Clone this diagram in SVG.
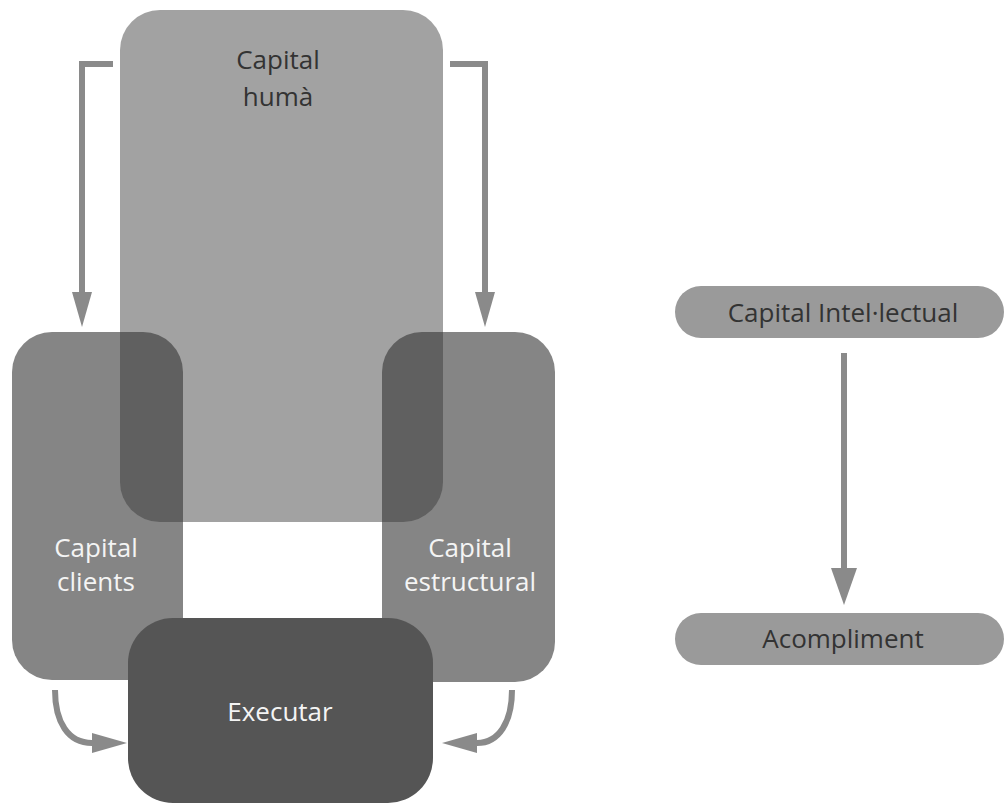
<svg xmlns="http://www.w3.org/2000/svg" width="1005" height="811" viewBox="0 0 1005 811">
  <style>
    .lbl { font-family: "Open Sans", "Noto Sans", "Liberation Sans", sans-serif; font-size: 26px; text-anchor: middle; }
    .dark { fill: #333333; }
    .light { fill: #f4f4f4; }
    .side { fill: #858585; }
    .core { fill: #353535; fill-opacity: 0.46; }
    .exec { fill: #555555; }
    .pill { fill: #9a9a9a; }
    .conn { fill: none; stroke: #8a8a8a; stroke-width: 6; }
    .head { fill: #8a8a8a; }
  </style>
  <defs>
    <marker id="headA" viewBox="0 0 35 20" markerUnits="userSpaceOnUse" markerWidth="35" markerHeight="20" refX="0" refY="10" orient="auto">
      <path class="head" d="M0,0 L35,10 L0,20 z"/>
    </marker>
    <marker id="headB" viewBox="0 0 37 26" markerUnits="userSpaceOnUse" markerWidth="37" markerHeight="26" refX="0" refY="13" orient="auto">
      <path class="head" d="M0,0 L37,13 L0,26 z"/>
    </marker>
  </defs>

  <rect width="1005" height="811" fill="#ffffff"/>

  <g id="capital-clients">
    <rect class="side" x="12" y="332" width="171" height="348" rx="40" ry="40"/>
    <text class="lbl light" x="96" y="557">Capital</text>
    <text class="lbl light" x="96" y="591">clients</text>
  </g>

  <g id="capital-estructural">
    <rect class="side" x="382" y="332" width="173" height="350" rx="40" ry="40"/>
    <text class="lbl light" x="470" y="557">Capital</text>
    <text class="lbl light" x="470" y="591">estructural</text>
  </g>

  <g id="capital-huma">
    <rect class="core" x="120" y="10" width="323" height="512" rx="40" ry="40"/>
    <text class="lbl dark" x="278" y="69">Capital</text>
    <text class="lbl dark" x="278" y="106">humà</text>
  </g>

  <g id="executar">
    <rect class="exec" x="128" y="618" width="305" height="185" rx="45" ry="45"/>
    <text class="lbl light" x="280" y="721">Executar</text>
  </g>

  <g id="capital-intellectual">
    <rect class="pill" x="675" y="286" width="329" height="52" rx="26" ry="26"/>
    <text class="lbl dark" x="843" y="322">Capital Intel·lectual</text>
  </g>

  <g id="acompliment">
    <rect class="pill" x="675" y="613" width="329" height="52" rx="26" ry="26"/>
    <text class="lbl dark" x="843" y="648">Acompliment</text>
  </g>

  <g id="connectors">
    <path class="conn" d="M113,64 H82 V292" marker-end="url(#headA)"/>
    <path class="conn" d="M450,64 H485 V292" marker-end="url(#headA)"/>
    <path class="conn" d="M55,690 C55,722 68,743 92,743" marker-end="url(#headA)"/>
    <path class="conn" d="M512,690 C512,722 499,743 477,743" marker-end="url(#headA)"/>
    <path class="conn" d="M844,353 V568" marker-end="url(#headB)"/>
  </g>
</svg>
